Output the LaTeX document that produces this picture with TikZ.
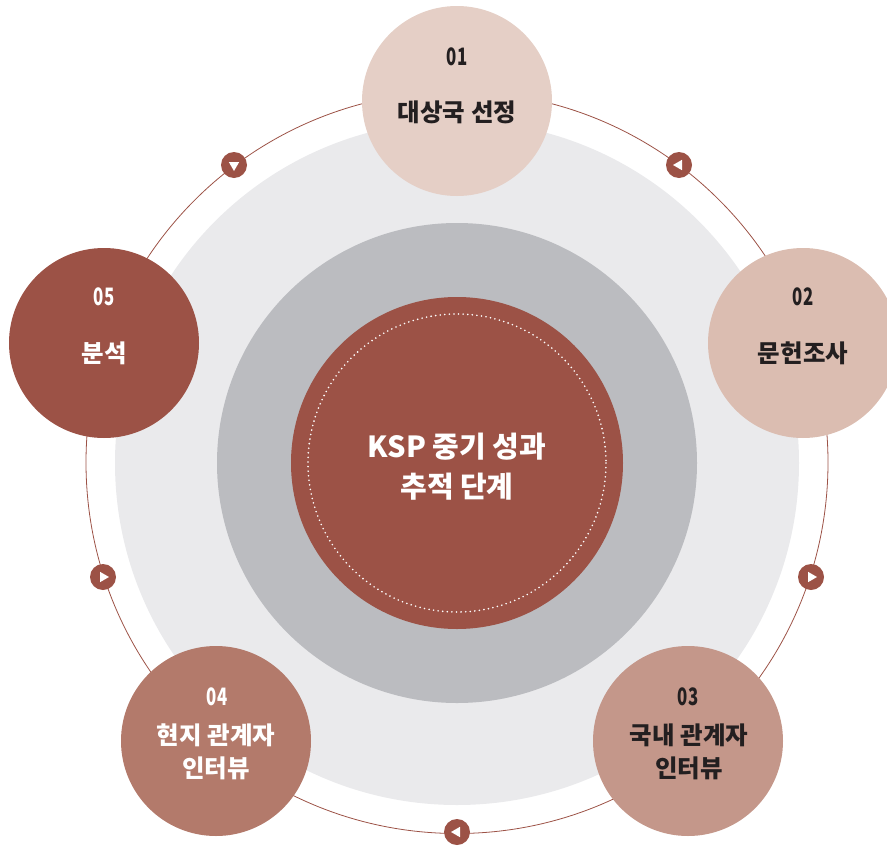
\documentclass[tikz,border=0pt]{standalone}
\usepackage{fontspec}
\setmainfont{Noto Sans CJK KR}
\newfontfamily\numfont{Noto Sans CJK KR}[FakeStretch=0.7]
\usetikzlibrary{shapes.geometric}

\definecolor{brick}{HTML}{9C5246}
\definecolor{stageA}{HTML}{E5CFC6}
\definecolor{stageB}{HTML}{DBBDB1}
\definecolor{stageC}{HTML}{C4978A}
\definecolor{stageD}{HTML}{B37A6B}
\definecolor{paleGray}{HTML}{EAEAEC}
\definecolor{midGray}{HTML}{BBBCC0}
\definecolor{inkDark}{HTML}{231F20}

\tikzset{
  stage/.style = {circle, minimum size=190pt, inner sep=0pt},
  num/.style   = {font=\numfont\bfseries\fontsize{24}{24}\selectfont},
  title/.style = {font=\bfseries\fontsize{24.5}{33}\selectfont, align=center},
  turn/.style  = {circle, fill=brick, minimum size=26pt, inner sep=0pt},
  pointer/.style = {regular polygon, regular polygon sides=3, fill=white,
                    minimum size=12pt, inner sep=0pt}
}

\begin{document}
\begin{tikzpicture}[x=1pt, y=-1pt]
          \useasboundingbox (0,0) rectangle (887,849);

          % ring and background discs
          \coordinate (c) at (457,463);
          \draw[brick, line width=0.8pt] (457,462.5) circle (371);
          \fill[paleGray] (c) circle (342);
          \fill[midGray]  (c) circle (240);

          \node[circle, fill=brick, minimum size=332pt, inner sep=0pt] at (c) (core) {};
          \draw[white, line width=1.8pt, line cap=round, dash pattern=on 0pt off 4.6pt]
               (c) circle (149);
          \node[font=\bfseries\fontsize{29}{40}\selectfont, align=center, text=white]
               at (457,467) (coretext) {KSP 중기 성과\\추적 단계};

          % turning points on the ring
          \node[turn] at (234,165) (m1) {};
          \node[turn] at (679,165) (m2) {};
          \node[turn] at (811,577) (m3) {};
          \node[turn] at (457,832) (m4) {};
          \node[turn] at (103,577) (m5) {};
          \node[pointer, rotate=180] at (m1) {};
          \node[pointer, rotate=90]  at (m2) {};
          \node[pointer, rotate=-90] at (m3) {};
          \node[pointer, rotate=90]  at (m4) {};
          \node[pointer, rotate=-90] at (m5) {};

          % stages
          \node[stage, fill=stageA] at (457,101) (s1) {};
          \node[stage, fill=stageB] at (803,343) (s2) {};
          \node[stage, fill=stageC] at (688,741) (s3) {};
          \node[stage, fill=stageD] at (216,741) (s4) {};
          \node[stage, fill=brick]  at (104,343) (s5) {};

          \node[num, text=inkDark]   at (457,57)  (n1) {01};
          \node[title, text=inkDark] at (457,112) (t1) {대상국 선정};
          \node[num, text=inkDark]   at (803,297) (n2) {02};
          \node[title, text=inkDark] at (803,353) (t2) {문헌조사};
          \node[num, text=inkDark]   at (688,697) (n3) {03};
          \node[title, text=inkDark] at (689,752) (t3) {국내 관계자\\인터뷰};
          \node[num, text=white]     at (217,697) (n4) {04};
          \node[title, text=white]   at (216,752) (t4) {현지 관계자\\인터뷰};
          \node[num, text=white]     at (104,297) (n5) {05};
          \node[title, text=white]   at (104,353) (t5) {분석};
        \end{tikzpicture}
\end{document}
